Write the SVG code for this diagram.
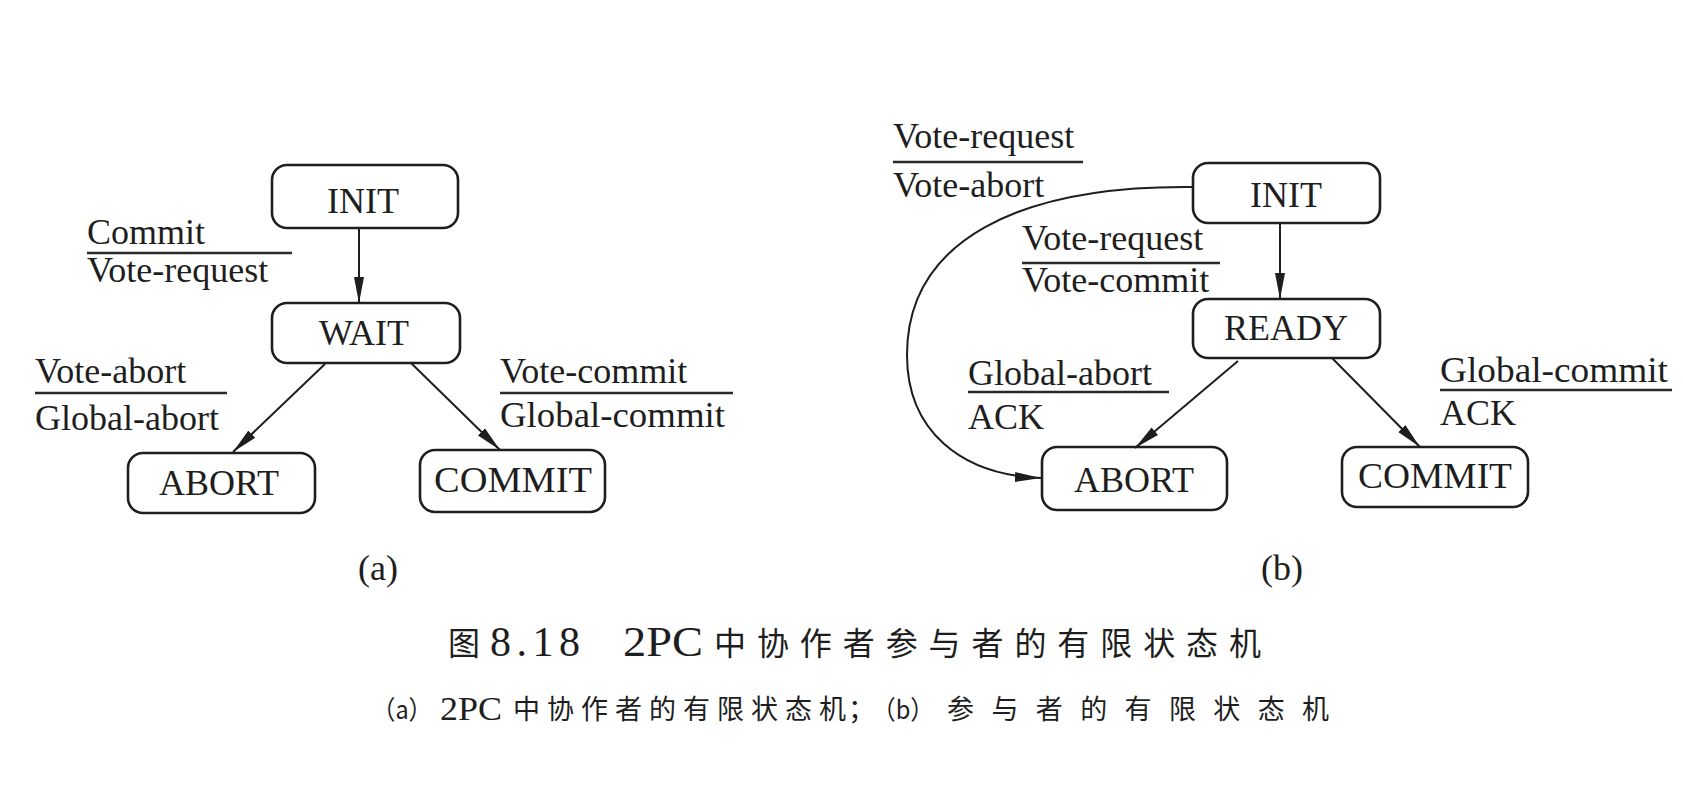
<svg xmlns="http://www.w3.org/2000/svg" width="1683" height="785" viewBox="0 0 1683 785">
<style>
.box{fill:none;stroke:#1e1e1e;stroke-width:2.6}
.lbl{font-family:"Liberation Serif","Times New Roman",serif;font-size:36px;fill:#1e1e1e}
.node{font-family:"Liberation Serif","Times New Roman",serif;font-size:36px;fill:#1e1e1e;text-anchor:middle}
.bar{stroke:#2a2a2a;stroke-width:2.6}
.edge{fill:none;stroke:#1e1e1e;stroke-width:2}
.cap{font-family:"Liberation Serif","Noto Sans CJK SC",serif;fill:#1e1e1e}
.cjk{font-family:"Noto Sans CJK SC",sans-serif;fill:#1e1e1e}
</style>
<defs>
<marker id="arr" markerUnits="userSpaceOnUse" markerWidth="28" markerHeight="12" refX="26" refY="6" orient="auto">
<path d="M0,1 L26,6 L0,11 z" fill="#1e1e1e"/>
</marker>
</defs>
<rect width="1683" height="785" fill="#ffffff"/>

<!-- panel (a) nodes -->
<g id="a-init"><rect class="box" x="272" y="165" width="186" height="63" rx="15"/><text class="node" x="363" y="213">INIT</text></g>
<g id="a-wait"><rect class="box" x="272" y="303" width="188" height="60" rx="15"/><text class="node" x="364" y="345">WAIT</text></g>
<g id="a-abort"><rect class="box" x="128" y="453" width="187" height="60" rx="15"/><text class="node" x="219" y="495">ABORT</text></g>
<g id="a-commit"><rect class="box" x="420" y="450" width="185" height="62" rx="15"/><text class="node" x="513" y="492" textLength="158" lengthAdjust="spacingAndGlyphs">COMMIT</text></g>

<!-- panel (b) nodes -->
<g id="b-init"><rect class="box" x="1193" y="163" width="187" height="60" rx="15"/><text class="node" x="1286" y="207">INIT</text></g>
<g id="b-ready"><rect class="box" x="1193" y="299" width="187" height="59" rx="15"/><text class="node" x="1286" y="340">READY</text></g>
<g id="b-abort"><rect class="box" x="1042" y="447" width="185" height="63" rx="15"/><text class="node" x="1134" y="492">ABORT</text></g>
<g id="b-commit"><rect class="box" x="1342" y="447" width="186" height="60" rx="15"/><text class="node" x="1435" y="488" textLength="154" lengthAdjust="spacingAndGlyphs">COMMIT</text></g>

<!-- connectors -->
<g id="connectors">
<path class="edge" d="M359,228 L359,303" marker-end="url(#arr)"/>
<path class="edge" d="M325,364 L233,452" marker-end="url(#arr)"/>
<path class="edge" d="M411,363 L500,450" marker-end="url(#arr)"/>
<path class="edge" d="M1280,223 L1280,299" marker-end="url(#arr)"/>
<path class="edge" d="M1238,361 L1135,448" marker-end="url(#arr)"/>
<path class="edge" d="M1332,358 L1420,447" marker-end="url(#arr)"/>
<path class="edge" d="M1193,187 C1020,185 907,240 907,355 C907,430 960,475 1041,478" marker-end="url(#arr)"/>
</g>

<!-- transition labels -->
<g id="labels">
<text class="lbl" x="87" y="244">Commit</text>
<line class="bar" x1="87" y1="253" x2="292" y2="253"/>
<text class="lbl" x="87" y="282">Vote-request</text>

<text class="lbl" x="35" y="383">Vote-abort</text>
<line class="bar" x1="35" y1="393" x2="227" y2="393"/>
<text class="lbl" x="35" y="430">Global-abort</text>

<text class="lbl" x="500" y="383">Vote-commit</text>
<line class="bar" x1="500" y1="393" x2="733" y2="393"/>
<text class="lbl" x="500" y="427" textLength="225" lengthAdjust="spacingAndGlyphs">Global-commit</text>

<text class="lbl" x="893" y="148">Vote-request</text>
<line class="bar" x1="893" y1="162" x2="1083" y2="162"/>
<text class="lbl" x="893" y="197">Vote-abort</text>

<text class="lbl" x="1022" y="250">Vote-request</text>
<line class="bar" x1="1022" y1="263" x2="1220" y2="263"/>
<text class="lbl" x="1022" y="292">Vote-commit</text>

<text class="lbl" x="968" y="385">Global-abort</text>
<line class="bar" x1="968" y1="392" x2="1169" y2="392"/>
<text class="lbl" x="968" y="429">ACK</text>

<text class="lbl" x="1440" y="382" textLength="228" lengthAdjust="spacingAndGlyphs">Global-commit</text>
<line class="bar" x1="1440" y1="390" x2="1672" y2="390"/>
<text class="lbl" x="1440" y="425">ACK</text>
</g>

<!-- sub-figure tags -->
<text class="lbl" x="358" y="580" font-size="34">(a)</text>
<text class="lbl" x="1261" y="580" font-size="34">(b)</text>

<!-- caption -->
<g id="caption">
<text class="cjk" x="448" y="655" font-size="32">图</text>
<text class="cap" x="490" y="656" font-size="42" textLength="90" lengthAdjust="spacing">8.18</text>
<text class="cap" x="623" y="656" font-size="42" textLength="80" lengthAdjust="spacingAndGlyphs">2PC</text>
<text class="cjk" x="714" y="655" font-size="32" textLength="547" lengthAdjust="spacing">中协作者参与者的有限状态机</text>

<text class="cjk" x="372" y="719" font-size="26" textLength="60" lengthAdjust="spacingAndGlyphs">（a）</text>
<text class="cap" x="440" y="720" font-size="34" textLength="62" lengthAdjust="spacingAndGlyphs">2PC</text>
<text class="cjk" x="513" y="719" font-size="27" textLength="333" lengthAdjust="spacing">中协作者的有限状态机</text>
<text class="cjk" x="848" y="719" font-size="27">；</text>
<text class="cjk" x="872" y="719" font-size="26" textLength="62" lengthAdjust="spacingAndGlyphs">（b）</text>
<text class="cjk" x="947" y="719" font-size="27" textLength="382" lengthAdjust="spacing">参与者的有限状态机</text>
</g>
</svg>
